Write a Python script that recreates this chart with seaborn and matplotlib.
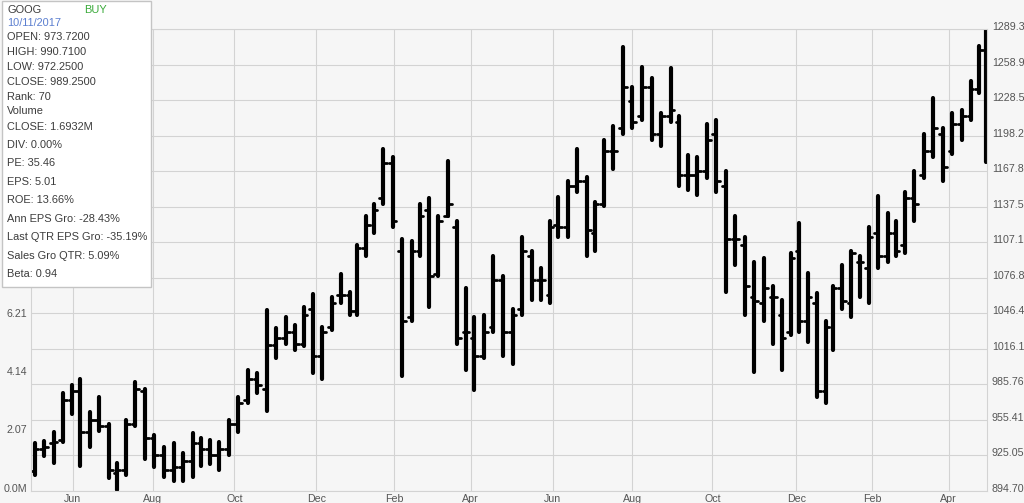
import pandas as pd
import numpy as np
import seaborn as sns
import matplotlib.pyplot as plt
from matplotlib.patches import Rectangle
from matplotlib.transforms import ScaledTranslation

# weekly OHLC (GOOG, May 2017 - Apr 2019)
week_start = pd.date_range('2017-05-01', '2019-04-29', freq='7D')
opens = [911, 930, 935, 938, 972, 980, 945, 955, 950, 910, 912, 952, 980, 940, 925, 912, 915, 920, 935, 930,
         925, 930, 952, 972, 990, 982, 1019, 1025, 1030, 1020, 1050, 1010, 1035, 1062, 1062, 1048, 1102, 1122, 1145, 1175,
         1100, 1043, 1100, 1135, 1080, 1130, 1120, 1030, 1025, 1010, 1035, 1075, 1030, 1050, 1095, 1075, 1062, 1122, 1120, 1155,
         1160, 1115, 1140, 1185, 1205, 1228, 1215, 1240, 1200, 1215, 1210, 1165, 1165, 1168, 1200, 1155, 1110, 1105, 1060, 1055,
         1060, 1045, 1030, 1100, 1040, 1055, 980, 1035, 1068, 1055, 1090, 1085, 1115, 1095, 1115, 1105, 1145, 1165, 1185, 1200,
         1185, 1208, 1215, 1238, 1275]
highs = [935, 937, 945, 978, 985, 990, 962, 975, 952, 918, 955, 988, 982, 942, 932, 935, 927, 944, 940, 938,
         936, 955, 975, 998, 995, 1049, 1034, 1043, 1036, 1052, 1063, 1035, 1060, 1080, 1065, 1105, 1130, 1140, 1187, 1180,
         1110, 1108, 1140, 1145, 1130, 1177, 1125, 1068, 1043, 1045, 1095, 1078, 1050, 1112, 1100, 1085, 1125, 1146, 1160, 1187,
         1163, 1142, 1195, 1207, 1274, 1240, 1257, 1248, 1218, 1256, 1215, 1182, 1180, 1208, 1212, 1168, 1130, 1112, 1090, 1094,
         1070, 1058, 1098, 1124, 1081, 1064, 1040, 1070, 1088, 1100, 1095, 1120, 1147, 1132, 1125, 1150, 1168, 1200, 1231, 1205,
         1218, 1220, 1245, 1275, 1289]
lows = [908, 924, 918, 936, 960, 916, 932, 946, 905, 895, 908, 950, 922, 915, 906, 903, 903, 906, 916, 917,
        912, 925, 945, 970, 978, 963, 1008, 1020, 1015, 1018, 995, 990, 1032, 1055, 1045, 1045, 1095, 1115, 1140, 1120,
        993, 1040, 1095, 1052, 1078, 1130, 1020, 998, 981, 1008, 1030, 1010, 1003, 1045, 1058, 1058, 1055, 1112, 1112, 1150,
        1095, 1100, 1138, 1170, 1200, 1205, 1212, 1195, 1190, 1210, 1155, 1152, 1148, 1162, 1150, 1065, 1088, 1045, 996, 1040,
        1020, 998, 1028, 1030, 1022, 975, 970, 1015, 1050, 1043, 1060, 1055, 1085, 1090, 1095, 1098, 1125, 1162, 1180, 1160,
        1183, 1195, 1212, 1235, 1176]
closes = [930, 932, 936, 972, 980, 945, 955, 950, 912, 912, 952, 982, 940, 925, 912, 915, 920, 935, 930, 925,
          930, 952, 970, 990, 985, 1019, 1025, 1030, 1020, 1045, 1010, 1030, 1055, 1062, 1048, 1102, 1122, 1135, 1175, 1125,
          1040, 1100, 1130, 1078, 1125, 1140, 1025, 1030, 1010, 1030, 1075, 1030, 1045, 1100, 1075, 1075, 1120, 1120, 1155, 1160,
          1118, 1140, 1185, 1185, 1240, 1210, 1240, 1200, 1215, 1220, 1165, 1165, 1168, 1195, 1160, 1110, 1110, 1070, 1057, 1068,
          1060, 1025, 1094, 1040, 1060, 980, 1035, 1068, 1057, 1098, 1090, 1112, 1095, 1115, 1100, 1145, 1140, 1185, 1205, 1172,
          1208, 1215, 1238, 1272, 1188]

price_ticks = ['894.70', '925.05', '955.41', '985.76', '1016.12', '1046.47', '1076.82', '1107.18',
               '1137.53', '1167.88', '1198.24', '1228.59', '1258.94', '1289.30']
vol_ticks = ['0.0M', '2.07', '4.14', '6.21']
vol_top = 16.37
month_starts = ['2017-06', '2017-08', '2017-10', '2017-12', '2018-02', '2018-04',
                '2018-06', '2018-08', '2018-10', '2018-12', '2019-02', '2019-04']
month_names = ['Jun', 'Aug', 'Oct', 'Dec', 'Feb', 'Apr', 'Jun', 'Aug', 'Oct', 'Dec', 'Feb', 'Apr']

holidays = ['2017-05-29', '2017-07-04', '2017-09-04', '2017-11-23', '2017-12-25', '2018-01-01',
            '2018-01-15', '2018-02-19', '2018-03-30', '2018-05-28', '2018-07-04', '2018-09-03',
            '2018-11-22', '2018-12-05', '2018-12-25', '2019-01-01', '2019-01-21', '2019-02-18', '2019-04-19']

info_lines = ['OPEN: 973.7200', 'HIGH: 990.7100', 'LOW: 972.2500', 'CLOSE: 989.2500', 'Rank: 70',
              'Volume', 'CLOSE: 1.6932M', 'DIV: 0.00%', 'PE: 35.46', 'EPS: 5.01', 'ROE: 13.66%',
              'Ann EPS Gro: -28.43%', 'Last QTR EPS Gro: -35.19%', 'Sales Gro QTR: 5.09%', 'Beta: 0.94']
info_y = [37.3, 52.3, 67.3, 81.7, 96.7, 111, 126.7, 145, 163.3, 181.7, 200, 219, 237.3, 255.7, 274]

# trading days -> x positions
days = pd.bdate_range('2017-05-01', '2019-04-30')
days = days[~days.isin(pd.to_datetime(holidays))]
day_idx = pd.Series(np.arange(len(days)), index=days)

ranges, ticks = [], []
for k, ws in enumerate(week_start):
    wk = day_idx[(day_idx.index >= ws) & (day_idx.index < ws + pd.Timedelta(days=7))]
    x0, x1 = wk.iloc[0], wk.iloc[-1]
    xm = (x0 + x1) / 2
    ranges += [(xm, lows[k], k), (xm, highs[k], k)]
    ticks += [(x0, opens[k], 2 * k), (xm, opens[k], 2 * k),
              (xm, closes[k], 2 * k + 1), (x1, closes[k], 2 * k + 1)]
df_range = pd.DataFrame(ranges, columns=['x', 'price', 'seg'])
df_tick = pd.DataFrame(ticks, columns=['x', 'price', 'seg'])

sns.set_theme(style='whitegrid')
plt.rcParams['font.family'] = ['Liberation Sans', 'DejaVu Sans']
bg = '#f6f6f6'
grid_c = '#d3d3d3'
txt_c = '#555555'

fig = plt.figure(figsize=(10.24, 5.03), dpi=100, facecolor=bg)
ax = fig.add_axes([30.7 / 1024, 1 - 490.5 / 503, 956 / 1024, 461 / 503])
ax.set_facecolor(bg)
ax2 = ax.twinx()

sns.lineplot(data=df_range, x='x', y='price', units='seg', estimator=None, sort=False,
             color='black', linewidth=3.0, ax=ax)
sns.lineplot(data=df_tick, x='x', y='price', units='seg', estimator=None, sort=False,
             color='black', linewidth=2.0, ax=ax)

ax.set_xlim(0, len(days) - 1)
ax.set_ylim(float(price_ticks[0]), float(price_ticks[-1]))
ax.set_xlabel('')
ax.set_ylabel('')

mt = [day_idx[day_idx.index.to_period('M') == pd.Period(m)].iloc[0] for m in month_starts]
ax.set_xticks(mt)
ax.set_xticklabels(month_names)
ax.set_yticks([float(t) for t in price_ticks])
ax.set_yticklabels(price_ticks)
ax.yaxis.tick_right()
ax.tick_params(axis='y', length=0, pad=3.8, labelsize=7.7, labelcolor=txt_c,
               left=False, labelleft=False, right=True, labelright=True)
ax.tick_params(axis='x', length=0, pad=2.2, labelsize=7.7, labelcolor=txt_c)
ax.grid(True, color=grid_c, linewidth=0.8)
ax.set_axisbelow(True)
for s in ax.spines.values():
    s.set_visible(True)
    s.set_color(grid_c)
    s.set_linewidth(0.8)

ax2.set_ylim(0, vol_top)
ax2.set_yticks([i * 2.07 for i in range(len(vol_ticks))])
ax2.set_yticklabels(vol_ticks)
ax2.yaxis.tick_left()
ax2.tick_params(axis='y', length=0, pad=2.7, labelsize=7.7, labelcolor=txt_c,
                left=True, labelleft=True, right=False, labelright=False)
ax2.grid(False)
for s in ax2.spines.values():
    s.set_visible(False)

shift = ScaledTranslation(0, 3 / 100, fig.dpi_scale_trans)
for lab in ax.get_yticklabels() + ax2.get_yticklabels():
    lab.set_transform(lab.get_transform() + shift)

# info box
W, H = 1024, 503
fig.add_artist(Rectangle((2 / W, 1 - 287 / H), 149 / W, 286 / H, transform=fig.transFigure,
                         facecolor='white', edgecolor='#c4c4c4', linewidth=1, zorder=10))
fig.text(7.3 / W, 1 - 10 / H, 'GOOG', color='#3c3c3c', fontsize=7.9, va='center', zorder=11)
fig.text(84.3 / W, 1 - 10 / H, 'BUY', color='#3aaa3a', fontsize=7.9, va='center', zorder=11)
fig.text(7.3 / W, 1 - 22.7 / H, '10/11/2017', color='#5b7fd0', fontsize=7.9, va='center', zorder=11)
for t, y in zip(info_lines, info_y):
    fig.text(7.3 / W, 1 - y / H, t, color='#3c3c3c', fontsize=7.9, va='center', zorder=11)

fig.savefig('out.png', dpi=100, facecolor=bg)
